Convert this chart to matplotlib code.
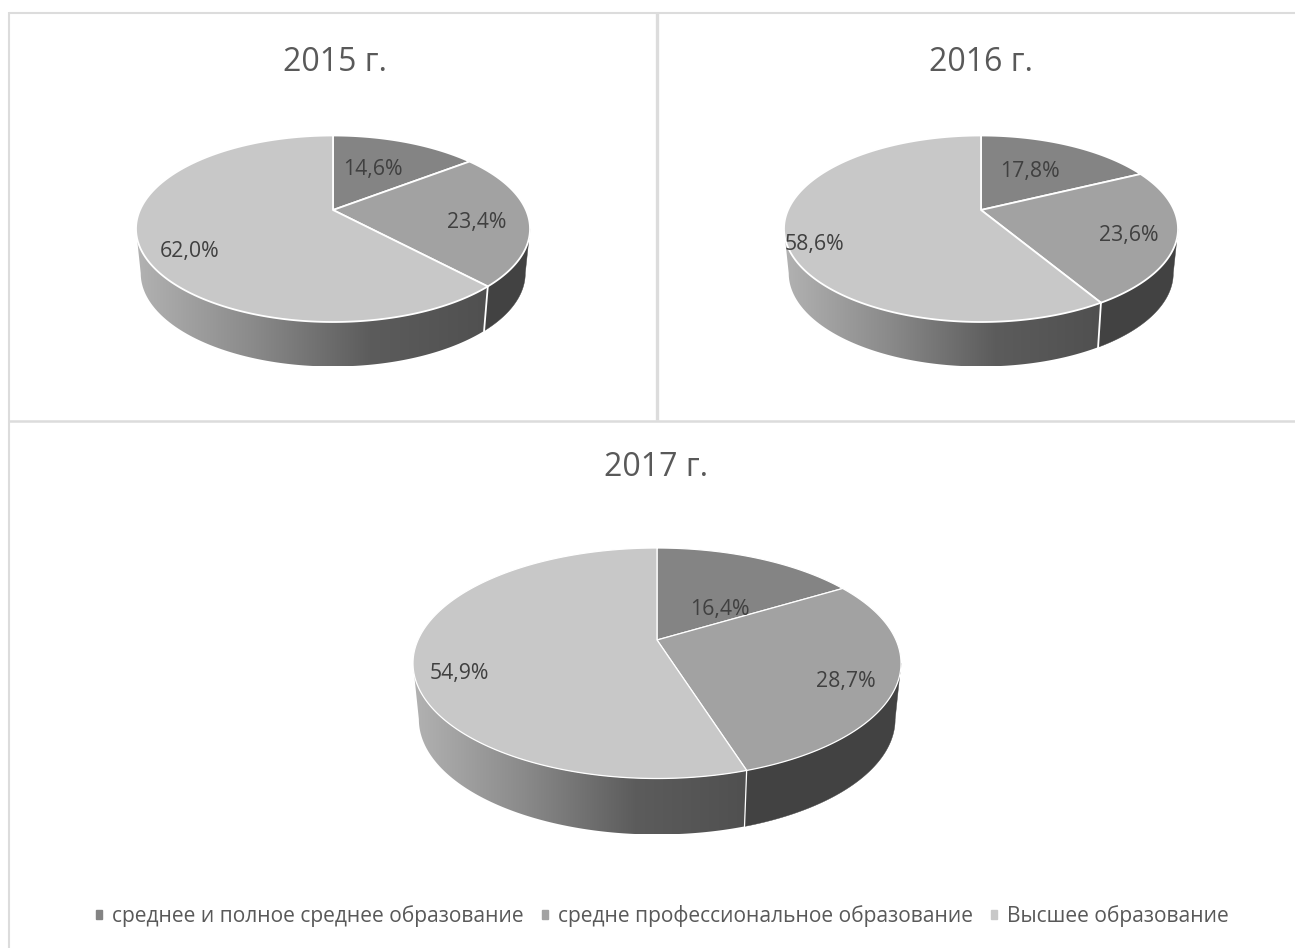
#!/bin/python3

import numpy as np
import matplotlib
matplotlib.use("Agg")
import matplotlib.pyplot as plt
from matplotlib.colors import LinearSegmentedColormap
from matplotlib.patches import Patch, Polygon

years = ["2015 г.", "2016 г.", "2017 г."]
values_2015 = [14.6, 23.4, 62.0]
values_2016 = [17.8, 23.6, 58.6]
values_2017 = [16.4, 28.7, 54.9]
categories = ["среднее и полное среднее образование",
              "средне профессиональное образование",
              "Высшее образование"]

slice_colors = ["#848484", "#a2a2a2", "#c8c8c8"]
text_color = "#404040"
soft_text = "#595959"
line_color = "#dcdcdc"

WIDTH, HEIGHT = 1295, 948
plt.rcParams['font.family'] = ['Open Sans', 'DejaVu Sans']


def project(theta, cx, apex, top, bottom, rx):
    # circle seen in perspective: the apex is not in the middle of the ellipse
    up = apex - top
    down = bottom - apex
    c = (down - up) / (down + up)
    a = up * (1 + c)
    b = rx * np.sqrt(1 - c * c)
    w = 1 + c * np.cos(theta)
    return b * np.sin(theta) / w, -a * np.cos(theta) / w


def draw_pie(ax, values, cx, apex, top, bottom, rx, depth, edge_lw):
    up = apex - top
    down = bottom - apex
    c = (down - up) / (down + up)
    edges = np.radians(np.concatenate([[0], np.cumsum(values)]) * 3.6)
    right = np.arccos(-c)
    left = 2 * np.pi - right
    shrink = 0.976

    def rim(theta):
        x, y = project(theta, cx, apex, top, bottom, rx)
        return cx + x, apex + y

    def foot(theta):
        x, y = project(theta, cx, apex, top, bottom, rx)
        return cx + shrink * x, apex + y + depth

    def wall(a0, a1):
        th = np.linspace(a0, a1, 200)
        x0, y0 = rim(th)
        x1, y1 = foot(th)
        return np.column_stack([np.r_[x0, x1[::-1]], np.r_[y0, y1[::-1]]])

    # dark side of the middle slice
    dark = wall(right, edges[2])
    ax.add_patch(Polygon(dark, closed=True, fc="#424242", ec="#424242", lw=0.3, zorder=2))

    # light side of the big slice with left to right gradient
    light = wall(edges[2], left)
    shade = LinearSegmentedColormap.from_list("shade", ["#b2b2b2", "#8a8a8a", "#5c5c5c", "#505050"])
    im = ax.imshow(np.linspace(0, 1, 256)[None, :], cmap=shade, aspect="auto",
                   extent=(light[:, 0].min(), light[:, 0].max(), light[:, 1].max(), light[:, 1].min()),
                   zorder=2, interpolation="bilinear")
    im.set_clip_path(Polygon(light, closed=True, transform=ax.transData))

    x0, y0 = rim(edges[2])
    x1, y1 = foot(edges[2])
    ax.plot([x0, x1], [y0, y1], color="white", lw=edge_lw, zorder=3)

    # top face
    for i in range(len(values)):
        th = np.linspace(edges[i], edges[i + 1], 300)
        x, y = rim(th)
        ax.fill(np.r_[cx, x], np.r_[apex, y], facecolor=slice_colors[i], edgecolor="white",
                linewidth=edge_lw, joinstyle="round", zorder=4)


def add_labels(ax, values, spots):
    for v, (x, y) in zip(values, spots):
        label = f"{v:.1f}%".replace(".", ",")
        ax.text(x, y, label, ha="center", va="center", fontsize=15.3, color=text_color, zorder=5)


def main():
    fig = plt.figure(figsize=(WIDTH / 100, HEIGHT / 100), dpi=100)
    ax = fig.add_axes([0, 0, 1, 1])

    draw_pie(ax, values_2015, 333, 210, 135.5, 322, 197, 44.5, 1.3)
    draw_pie(ax, values_2016, 981, 210, 135.5, 322, 197, 44.5, 1.3)
    draw_pie(ax, values_2017, 657, 640, 548, 778.5, 244, 56, 0.9)

    add_labels(ax, values_2015, [(373, 169), (477, 222), (190, 251)])
    add_labels(ax, values_2016, [(1030, 171), (1129, 235), (815, 244)])
    add_labels(ax, values_2017, [(720, 610), (846, 682), (459, 674)])

    ax.text(335, 62, years[0], ha="center", va="center", fontsize=23, color=soft_text)
    ax.text(981, 62, years[1], ha="center", va="center", fontsize=23, color=soft_text)
    ax.text(656, 467, years[2], ha="center", va="center", fontsize=23, color=soft_text)

    # panel frames
    ax.plot([9, WIDTH], [12.5, 12.5], color=line_color, lw=1.5, zorder=1, solid_capstyle="butt")
    ax.plot([9, 9], [12, HEIGHT], color=line_color, lw=1.5, zorder=1, solid_capstyle="butt")
    ax.plot([9, WIDTH], [420.5, 420.5], color=line_color, lw=1.8, zorder=1, solid_capstyle="butt")
    ax.plot([656.5, 656.5], [12, 420], color=line_color, lw=2.4, zorder=1, solid_capstyle="butt")

    handles = [Patch(color=col) for col in slice_colors]
    ax.legend(handles, categories, ncol=3, frameon=False, loc="center",
              bbox_to_anchor=(662.5 / WIDTH, 1 - 916 / HEIGHT), fontsize=15.1, labelcolor=soft_text,
              handlelength=0.28, handleheight=0.28, handletextpad=0.48, columnspacing=0.86)

    ax.set_xlim(0, WIDTH)
    ax.set_ylim(HEIGHT, 0)
    ax.axis("off")
    fig.savefig("out.png", dpi=100, facecolor="white")


if __name__ == '__main__':
    main()
